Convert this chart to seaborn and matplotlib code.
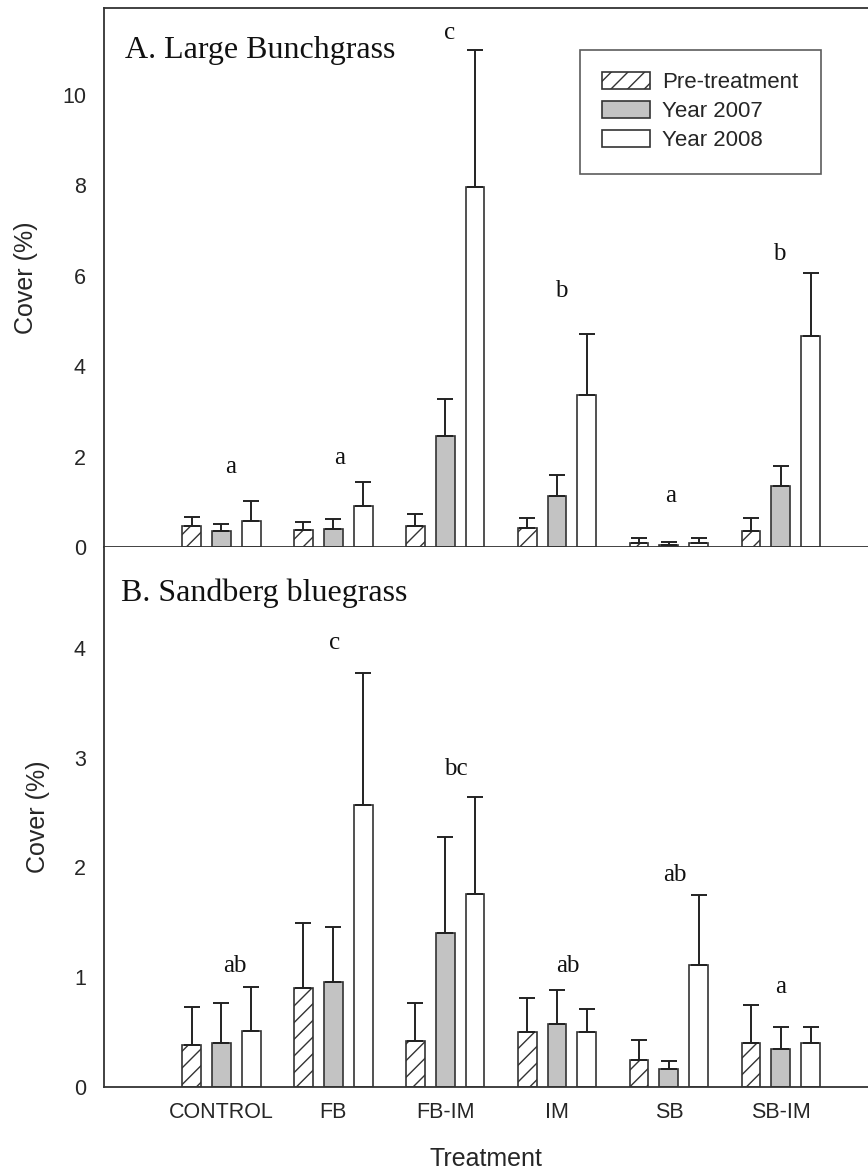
import numpy as np
import pandas as pd
import seaborn as sb
import matplotlib
matplotlib.use("Agg")
import matplotlib.pyplot as plt

treatments=["CONTROL","FB","FB-IM","IM","SB","SB-IM"]
periods=["Pre-treatment","Year 2007","Year 2008"]

# A. Large Bunchgrass, cover (%) mean and upper SE
bunch_pre=[0.46,0.38,0.46,0.43,0.08,0.36]
bunch_2007=[0.35,0.40,2.46,1.12,0.04,1.35]
bunch_2008=[0.57,0.91,7.97,3.37,0.08,4.66]
bunch_pre_se=[0.21,0.18,0.26,0.20,0.12,0.29]
bunch_2007_se=[0.15,0.22,0.82,0.47,0.08,0.45]
bunch_2008_se=[0.45,0.53,3.01,1.33,0.11,1.40]
bunch_letters=["a","a","c","b","a","b"]
bunch_letter_y=[1.63,1.83,11.23,5.53,1.00,6.35]

# B. Sandberg bluegrass
sand_pre=[0.38,0.90,0.42,0.50,0.25,0.40]
sand_2007=[0.40,0.96,1.40,0.57,0.16,0.35]
sand_2008=[0.51,2.57,1.76,0.50,1.11,0.40]
sand_pre_se=[0.35,0.59,0.35,0.31,0.18,0.35]
sand_2007_se=[0.37,0.50,0.88,0.31,0.08,0.20]
sand_2008_se=[0.40,1.20,0.88,0.21,0.64,0.15]
sand_letters=["ab","c","bc","ab","ab","a"]
sand_letter_y=[1.05,3.99,2.84,1.05,1.88,0.86]

sb.set_style("white")
plt.rcParams['font.family']=['Liberation Sans','DejaVu Sans']
plt.rcParams['hatch.linewidth']=1.0
serif=['Liberation Serif','DejaVu Serif']
edge='#333333'
palette={"Pre-treatment":"white","Year 2007":"#c3c3c3","Year 2008":"white"}

def draw_panel(ax,pre,y07,y08,ses,letters,letter_y,nudge,title,title_xy,ymax,yticks,show_x):
    df=pd.DataFrame({"Treatment":treatments*3,
                     "Period":np.repeat(periods,len(treatments)),
                     "Cover":pre+y07+y08})
    sb.barplot(data=df,x="Treatment",y="Cover",hue="Period",order=treatments,hue_order=periods,
               palette=palette,errorbar=None,gap=0.37,saturation=1,edgecolor=edge,linewidth=1.2,
               legend=False,ax=ax)
    bars=list(ax.containers)
    for p in bars[0]:
        p.set_hatch('//')
    for cont,se in zip(bars,ses):
        for p,e in zip(cont,se):
            x=p.get_x()+p.get_width()/2
            ax.errorbar(x,p.get_height(),yerr=[[0],[e]],fmt='none',ecolor='#222222',
                        elinewidth=1.4,capsize=6,capthick=1.4,zorder=1)
    for i,(lab,ly) in enumerate(zip(letters,letter_y)):
        ax.text(i+nudge[i],ly,lab,ha='center',va='baseline',fontsize=18,family=serif,color='#111111')
    ax.text(title_xy[0],title_xy[1],title,transform=ax.transAxes,ha='left',va='center',
            fontsize=23,family=serif,color='#111111')
    ax.set_xlim(-1.05,5.78)
    ax.set_ylim(0,ymax)
    ax.set_yticks(yticks)
    ax.set_ylabel("Cover (%)",fontsize=18,labelpad=17)
    ax.tick_params(axis='y',direction='out',length=7,width=1.1,color=edge,labelsize=15.5,pad=6)
    ax.tick_params(axis='x',length=0,labelsize=15.5,pad=11)
    for s in ax.spines.values():
        s.set_color(edge)
        s.set_linewidth(1.3)
    ax.spines['right'].set_visible(False)
    if show_x:
        ax.set_xlabel("Treatment",fontsize=18,labelpad=17)
        ax.spines['top'].set_visible(False)
    else:
        ax.set_xlabel("")
        ax.set_xticklabels([])
    return bars

fig=plt.figure(figsize=(8.68,11.72),dpi=100)
ax1=fig.add_axes([0.1198,0.5333,0.8802,0.4599])
ax2=fig.add_axes([0.1198,0.0725,0.8802,0.4608])

bars1=draw_panel(ax1,bunch_pre,bunch_2007,bunch_2008,[bunch_pre_se,bunch_2007_se,bunch_2008_se],
           bunch_letters,bunch_letter_y,[0.08,0.06,0.04,0.04,0.02,-0.01],
           "A. Large Bunchgrass",(0.027,0.922),11.92,[0,2,4,6,8,10],False)
draw_panel(ax2,sand_pre,sand_2007,sand_2008,[sand_pre_se,sand_2007_se,sand_2008_se],
           sand_letters,sand_letter_y,[0.12,0.01,0.10,0.10,0.05,0.0],
           "B. Sandberg bluegrass",(0.022,0.915),4.92,[0,1,2,3,4],True)

handles=[c.patches[0] for c in bars1]
leg=ax1.legend(handles,periods,loc='upper left',bbox_to_anchor=(0.623,0.922),borderaxespad=0,
               fontsize=16,frameon=True,fancybox=False,handlelength=2.15,handleheight=0.8,
               handletextpad=0.55,labelspacing=0.35,borderpad=1.0)
leg.get_frame().set_edgecolor(edge)
leg.get_frame().set_linewidth(1.2)

fig.savefig("out.png",dpi=100)
plt.close()
